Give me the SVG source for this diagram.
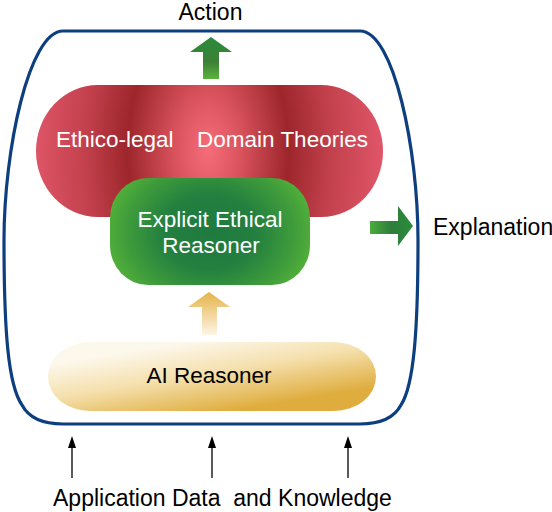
<svg xmlns="http://www.w3.org/2000/svg" width="552" height="512" viewBox="0 0 552 512">
<defs>
<style>
.lbl{font-family:"Liberation Sans",Arial,Helvetica,sans-serif;font-size:23px;fill:#000}
.wt{font-family:"Liberation Sans",Arial,Helvetica,sans-serif;font-size:22.5px;fill:#fff}
.ai{font-family:"Liberation Sans",Arial,Helvetica,sans-serif;font-size:22.5px;fill:#000}
.in{stroke:#000;stroke-width:1.3;fill:none}
.inh{fill:#000}
</style>
<radialGradient id="gRed" gradientUnits="userSpaceOnUse" cx="208" cy="150" r="175" gradientTransform="translate(208,150) scale(1,1.7) translate(-208,-150)">
<stop offset="0" stop-color="#f66d79"/>
<stop offset="0.2" stop-color="#d7515b"/>
<stop offset="0.46" stop-color="#9d262b"/>
<stop offset="0.7" stop-color="#c2404c"/>
<stop offset="1" stop-color="#df5668"/>
</radialGradient>
<radialGradient id="gGreen" gradientUnits="userSpaceOnUse" cx="210" cy="232" r="105" gradientTransform="translate(210,232) scale(1,0.8) translate(-210,-232)">
<stop offset="0" stop-color="#1f7a40"/>
<stop offset="0.45" stop-color="#23803f"/>
<stop offset="0.8" stop-color="#3f9c3b"/>
<stop offset="1" stop-color="#52b03a"/>
</radialGradient>
<linearGradient id="gYel" gradientUnits="userSpaceOnUse" x1="200" y1="340" x2="212" y2="414">
<stop offset="0" stop-color="#fdf8ec"/>
<stop offset="0.45" stop-color="#f5e0ad"/>
<stop offset="1" stop-color="#dfad3e"/>
</linearGradient>
<linearGradient id="gYArr" x1="0" y1="0" x2="0" y2="1">
<stop offset="0" stop-color="#e5b349"/>
<stop offset="1" stop-color="#fdf5e6"/>
</linearGradient>
<linearGradient id="gGArr" x1="0" y1="0" x2="0" y2="1">
<stop offset="0" stop-color="#2a8b3b"/>
<stop offset="0.6" stop-color="#3b8036"/>
<stop offset="1" stop-color="#5cb43d"/>
</linearGradient>
<linearGradient id="gEArr" x1="0" y1="0" x2="1" y2="0">
<stop offset="0" stop-color="#4bab3b"/>
<stop offset="0.5" stop-color="#2e7d3c"/>
<stop offset="1" stop-color="#2b8c3b"/>
</linearGradient>
</defs>
<rect width="552" height="512" fill="#fff"/>

<g id="system">
<path d="M63,31 L360,31 C394,31 418,150 418,240 C418,330 414,385 401,405 Q391,424 360,424 L63,424 Q32,424 22,405 C8,385 4,330 4,240 C4,150 29,31 63,31 Z" fill="none" stroke="#0d3f7f" stroke-width="3.2"/>
</g>

<g id="domain-theories">
<rect x="36" y="85" width="347" height="132" rx="62" ry="66" fill="url(#gRed)"/>
<text class="wt" x="56" y="147">Ethico-legal</text>
<text class="wt" x="197" y="147">Domain Theories</text>
</g>

<g id="ethical-reasoner">
<rect x="110" y="178" width="200" height="107" rx="38" ry="40" fill="url(#gGreen)"/>
<text class="wt" x="210" y="227" text-anchor="middle">Explicit Ethical</text>
<text class="wt" x="211" y="253" text-anchor="middle">Reasoner</text>
</g>

<g id="ai-reasoner">
<rect x="48" y="342" width="328" height="69" rx="42" ry="34.5" fill="url(#gYel)"/>
<text class="ai" x="209" y="383" text-anchor="middle">AI Reasoner</text>
</g>

<g id="action">
<text class="lbl" x="210.5" y="20" text-anchor="middle">Action</text>
</g>
<g id="explanation">
<text class="lbl" x="433" y="235">Explanation</text>
</g>
<g id="inputs">
<text class="lbl" x="53" y="506" xml:space="preserve">Application Data  and Knowledge</text>
</g>

<g id="connectors">
<polygon points="211,37 232,52 219,52 219,79 203,79 203,52 190,52" fill="url(#gGArr)"/>
<polygon points="209,292 230,307 217,307 217,335 202,335 202,307 188,307" fill="url(#gYArr)"/>
<polygon points="370,221 398,221 398,206 413,226 398,246 398,234 370,234" fill="url(#gEArr)"/>
<line class="in" x1="72" y1="478" x2="72" y2="446"/>
<polygon class="inh" points="72,436 76,448 68,448"/>
<line class="in" x1="212" y1="478" x2="212" y2="446"/>
<polygon class="inh" points="212,436 216,448 208,448"/>
<line class="in" x1="348" y1="478" x2="348" y2="446"/>
<polygon class="inh" points="348,436 352,448 344,448"/>
</g>
</svg>
